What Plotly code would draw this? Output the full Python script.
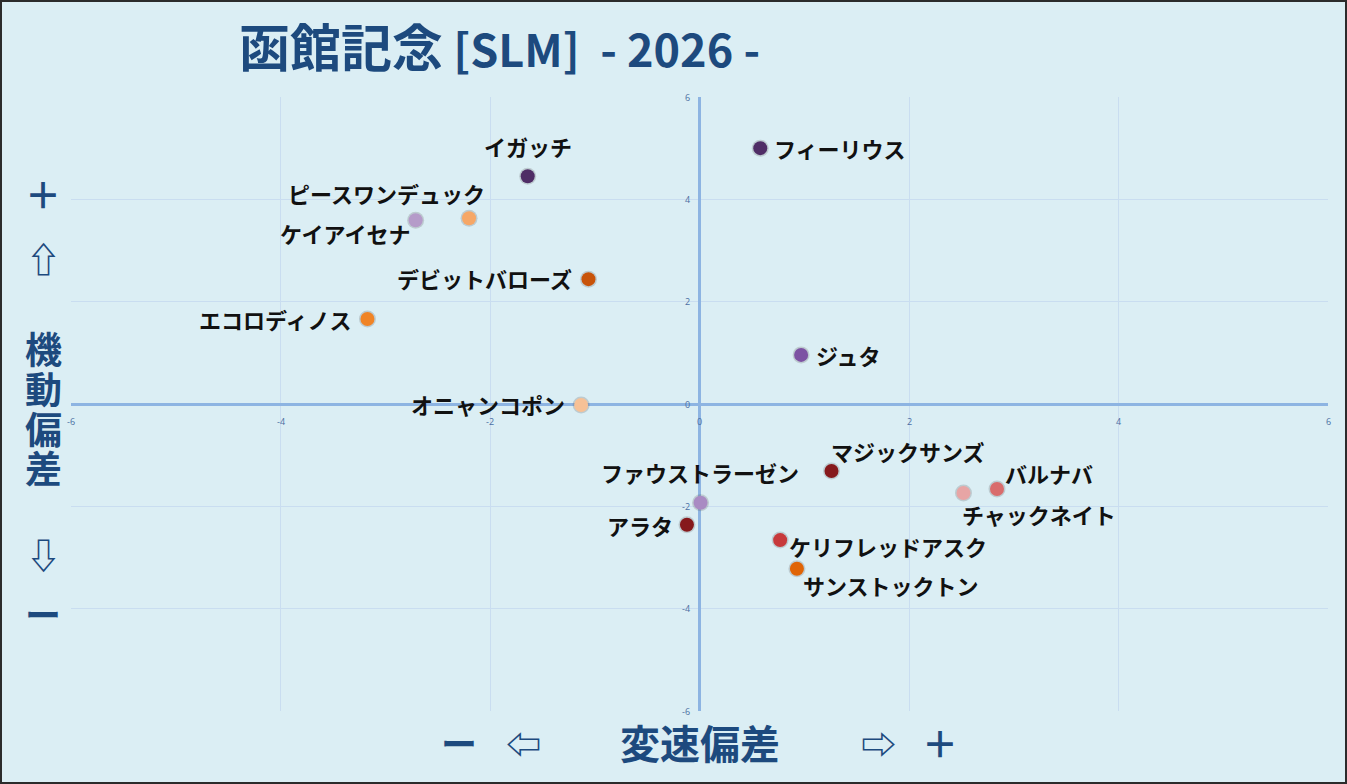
import plotly.graph_objects as go

# ---- data ----
horses = ["イガッチ", "フィーリウス", "ピースワンデュック", "ケイアイセナ", "デビットバローズ",
          "エコロディノス", "ジュタ", "オニャンコポン", "ファウストラーゼン", "アラタ",
          "マジックサンズ", "バルナバ", "チャックネイト", "ケリフレッドアスク", "サンストックトン"]
speed_dev = [-1.64, 0.58, -2.20, -2.71, -1.06, -3.17, 0.97, -1.13, 0.01, -0.12,
             1.26, 2.84, 2.52, 0.77, 0.93]
mobility_dev = [4.45, 5.00, 3.63, 3.59, 2.44, 1.66, 0.96, -0.02, -1.93, -2.36,
                -1.31, -1.66, -1.74, -2.66, -3.22]
tick_vals = [-6, -4, -2, 0, 2, 4, 6]
tick_text = ["-6", "-4", "-2", "0", "2", "4", "6"]
title_cjk = "函館記念"
title_rest = " [SLM]  - 2026 -"

# ---- styles ----
marker_colors = ["#4F2D66", "#4F2D66", "#F6A766", "#B59BC9", "#C85309",
                 "#F08426", "#7D52A3", "#F7C196", "#A98BC3", "#86191C",
                 "#86191C", "#D96C6C", "#E7A5A5", "#C7393B", "#E06406"]
# (xanchor, xshift, yshift)
label_pos = [("center", 0, 30), ("left", 12, 0), ("right", 18, 25), ("right", -4, -13),
             ("right", -14, 1), ("right", -14, 0), ("left", 13, 0), ("right", -14, 1),
             ("center", -1, 31), ("right", -12, 0), ("left", -2, 20), ("left", 6, 16),
             ("left", -3, -21), ("left", 7, -6), ("left", 4, -16)]

BG = "#DBEEF4"
NAVY = "#1D4A7E"
TICKC = "#4B6EA3"
FONT = "Noto Sans CJK JP"

W, H = 1347, 784
ML, MR, MT, MB = 71, 19, 97, 73
PW, PH = W - ML - MR, H - MT - MB


def px2paper(px, py):
    return (px - ML) / PW, (H - MB - py) / PH


fig = go.Figure()
# soft shadow
fig.add_trace(go.Scatter(x=speed_dev, y=mobility_dev, mode="markers",
                         marker=dict(size=17, color="rgba(80,80,80,0.22)", line=dict(width=0)),
                         hoverinfo="skip", showlegend=False))
fig.add_trace(go.Scatter(x=speed_dev, y=mobility_dev, mode="markers",
                         marker=dict(size=14, color=marker_colors, line=dict(width=0)),
                         text=horses, hoverinfo="text", showlegend=False))

annotations = []
for name, xv, yv, (xa, xs, ys) in zip(horses, speed_dev, mobility_dev, label_pos):
    annotations.append(dict(x=xv, y=yv, xref="x", yref="y", text=name, showarrow=False,
                            xanchor=xa, yanchor="middle", xshift=xs, yshift=ys,
                            font=dict(family=FONT, size=22, color="#111111", weight="bold")))

# tick labels next to crossing axes
for v, t in zip(tick_vals, tick_text):
    annotations.append(dict(x=v, y=0, xref="x", yref="y", text=t, showarrow=False,
                            xanchor="center", yanchor="top", yshift=-9,
                            font=dict(family="Open Sans", size=9, color=TICKC)))
    annotations.append(dict(x=0, y=v, xref="x", yref="y", text=t, showarrow=False,
                            xanchor="right", yanchor="middle", xshift=-8,
                            font=dict(family="Open Sans", size=9, color=TICKC)))

# title
tx, ty = px2paper(499, 45)
annotations.append(dict(x=tx, y=ty, xref="paper", yref="paper",
                        text=title_cjk + "<span style='font-size:45px'>" + title_rest + "</span>",
                        showarrow=False, xanchor="center", yanchor="middle",
                        font=dict(family=FONT, size=51, color=NAVY, weight="bold")))

# y-axis label (vertical stack)
for ch, py, sz in [("＋", 193, 36), ("⇧", 257, 35), ("機", 348, 37), ("動", 388, 37),
                   ("偏", 428, 37), ("差", 467, 37), ("⇩", 553, 35), ("ー", 613, 36)]:
    ax_, ay_ = px2paper(43, py)
    annotations.append(dict(x=ax_, y=ay_, xref="paper", yref="paper", text=ch, showarrow=False,
                            xanchor="center", yanchor="middle",
                            font=dict(family=FONT, size=sz, color=NAVY, weight="bold")))
# x-axis label
for txt, px, sz in [("ー", 459, 36), ("⇦", 523, 35), ("変速偏差", 700, 40), ("⇨", 878, 35),
                    ("＋", 940, 36)]:
    ax_, ay_ = px2paper(px, 742)
    annotations.append(dict(x=ax_, y=ay_, xref="paper", yref="paper", text=txt, showarrow=False,
                            xanchor="center", yanchor="middle",
                            font=dict(family=FONT, size=sz, color=NAVY, weight="bold")))

# outer border
bx0, by0 = px2paper(1, 783)
bx1, by1 = px2paper(1346, 1)
shapes = [dict(type="rect", xref="paper", yref="paper", x0=bx0, y0=by0, x1=bx1, y1=by1,
               line=dict(color="#2B2B2B", width=2), fillcolor="rgba(0,0,0,0)", layer="above")]

axis_common = dict(range=[-6, 6], tickvals=tick_vals, showticklabels=False, showgrid=True,
                   gridcolor="#C9DDF0", gridwidth=1, zeroline=True, zerolinecolor="#8DB4E2",
                   zerolinewidth=3, showline=False, fixedrange=True)

fig.update_layout(
    width=W, height=H,
    margin=dict(l=ML, r=MR, t=MT, b=MB, pad=0),
    paper_bgcolor=BG, plot_bgcolor=BG,
    xaxis=axis_common, yaxis=axis_common,
    annotations=annotations, shapes=shapes,
    showlegend=False,
)
fig.write_html("out.html")
